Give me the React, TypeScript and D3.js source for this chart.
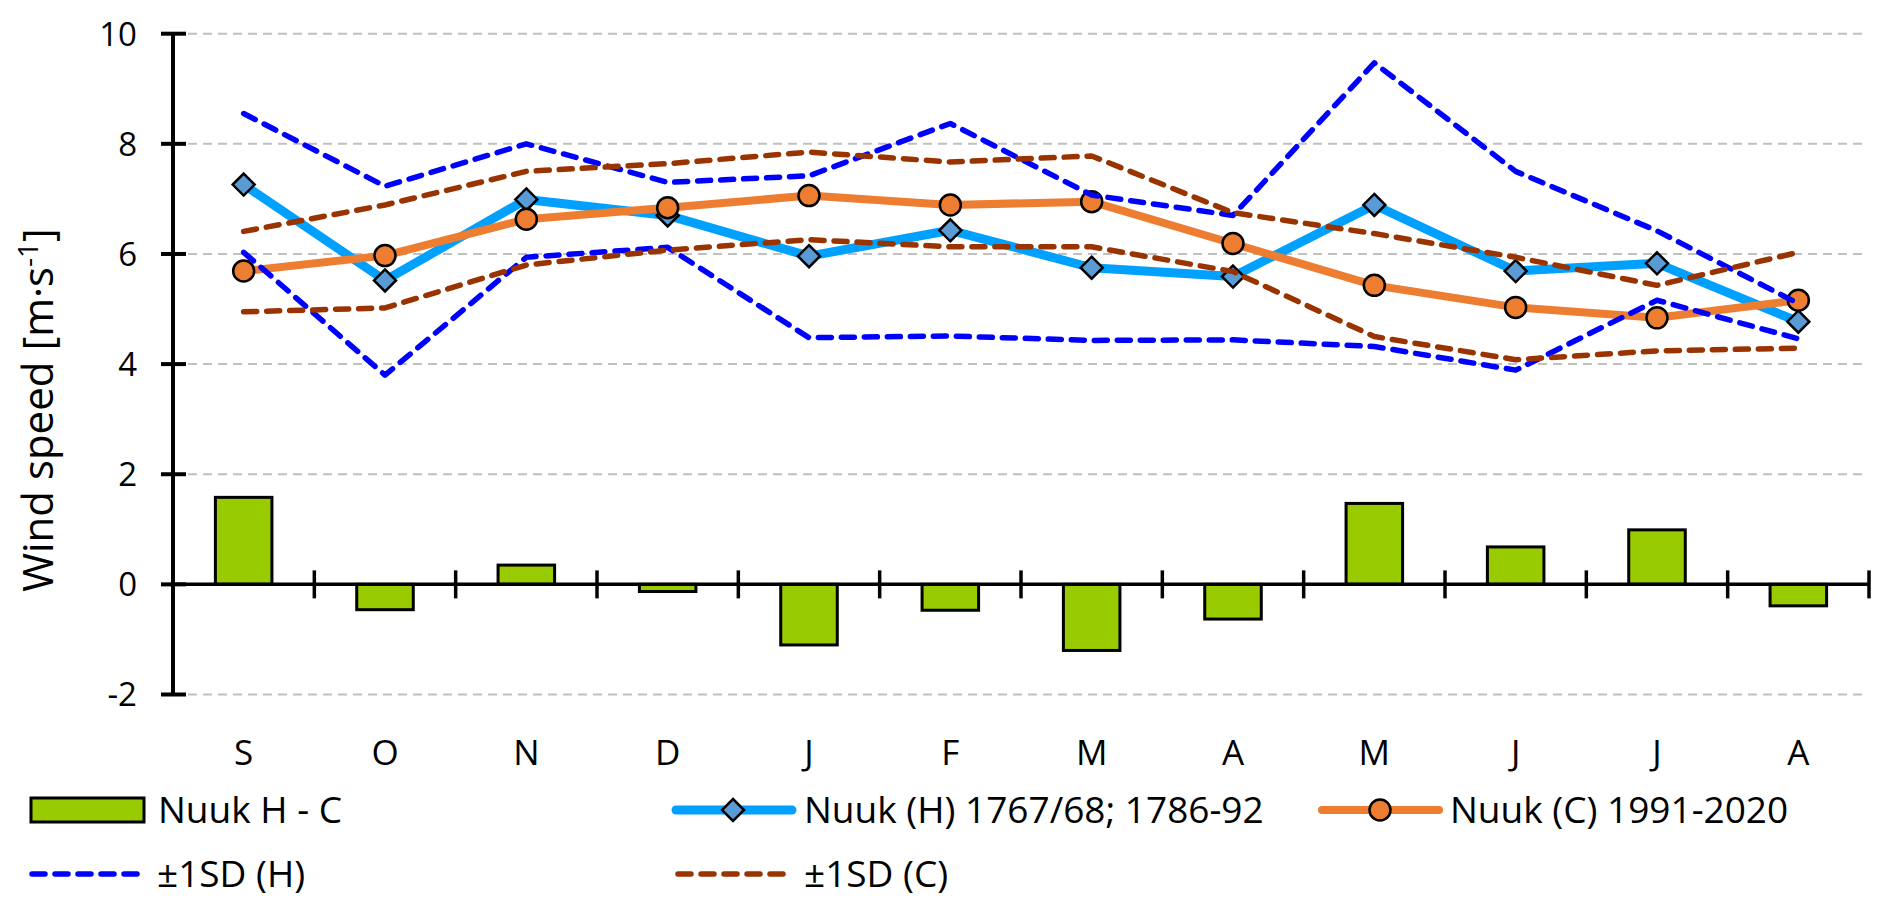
import React from "react";
import * as d3 from "d3";

const months = ["S", "O", "N", "D", "J", "F", "M", "A", "M", "J", "J", "A"];
const nuukH = [7.26, 5.52, 6.99, 6.7, 5.96, 6.43, 5.75, 5.59, 6.89, 5.69, 5.83, 4.77];
const nuukC = [5.69, 5.97, 6.63, 6.84, 7.06, 6.89, 6.95, 6.19, 5.43, 5.03, 4.84, 5.16];
const diffHC = [1.58, -0.46, 0.35, -0.13, -1.1, -0.47, -1.2, -0.63, 1.47, 0.68, 0.99, -0.39];
const hUpper = [8.55, 7.23, 8.0, 7.3, 7.42, 8.37, 7.07, 6.7, 9.47, 7.5, 6.42, 5.1];
const hLower = [6.03, 3.8, 5.94, 6.12, 4.48, 4.51, 4.43, 4.44, 4.32, 3.89, 5.16, 4.46];
const cUpper = [6.41, 6.89, 7.5, 7.64, 7.85, 7.67, 7.78, 6.75, 6.37, 5.94, 5.43, 6.03];
const cLower = [4.95, 5.02, 5.8, 6.07, 6.26, 6.13, 6.13, 5.68, 4.5, 4.08, 4.24, 4.29];
const yTicks = [-2, 0, 2, 4, 6, 8, 10];
const legendLabels = ["Nuuk H - C", "Nuuk (H) 1767/68; 1786-92", "Nuuk (C) 1991-2020", "±1SD (H)", "±1SD (C)"];

const FONT = "'Open Sans', 'Noto Sans', sans-serif";
const COL = {
  bar: "#99cc00",
  hLine: "#00a0ff",
  hMarker: "#5b9bd5",
  cLine: "#ed7d31",
  hSD: "#0000ff",
  cSD: "#993300",
  grid: "#c0c0c0",
};

const W = 1892;
const H = 913;
const left = 173;
const right = 1869;

export default function App() {
  const idx = months.map((_, i) => i);
  const x = d3.scaleBand<number>().domain(idx).range([left, right]).padding(0);
  const y = d3.scaleLinear().domain([-2, 10]).range([694.5, 33.7]);
  const cx = (i: number) => (x(i) as number) + x.bandwidth() / 2;
  const line = d3
    .line<number>()
    .x((_, i) => cx(i))
    .y((d) => y(d));
  const barW = x.bandwidth() * 0.4;
  const y0 = y(0);

  const diamond = (px: number, py: number, r: number) =>
    `M${px},${py - r}L${px + r},${py}L${px},${py + r}L${px - r},${py}Z`;

  const dash = "13,10";
  const sdW = 5.5;

  return (
    <svg
      width={W}
      height={H}
      style={{ position: "absolute", left: 0, top: 0, background: "#fff" }}
      fontFamily={FONT}
    >
      <rect x={0} y={0} width={W} height={H} fill="#fff" />
      {/* gridlines */}
      {yTicks
        .filter((t) => t !== 0)
        .map((t) => (
          <line
            key={"g" + t}
            x1={188}
            x2={1866}
            y1={y(t)}
            y2={y(t)}
            stroke={COL.grid}
            strokeWidth={2}
            strokeDasharray="9,6"
          />
        ))}
      {/* bars */}
      {diffHC.map((v, i) => (
        <rect
          key={"b" + i}
          x={cx(i) - barW / 2}
          y={Math.min(y(v), y0)}
          width={barW}
          height={Math.abs(y(v) - y0)}
          fill={COL.bar}
          stroke="#000"
          strokeWidth={3}
        />
      ))}
      {/* x axis */}
      <line x1={left} x2={right} y1={y0} y2={y0} stroke="#000" strokeWidth={3.5} />
      {idx.slice(1).concat([12]).map((i) => {
        const xx = i === 12 ? right : (x(i) as number);
        return <line key={"xt" + i} x1={xx} x2={xx} y1={y0 - 14} y2={y0 + 14} stroke="#000" strokeWidth={3.5} />;
      })}
      {/* y axis */}
      <line x1={left} x2={left} y1={y(10)} y2={y(-2)} stroke="#000" strokeWidth={4} />
      {yTicks.map((t) => (
        <g key={"yt" + t}>
          <line x1={161} x2={186} y1={y(t)} y2={y(t)} stroke="#000" strokeWidth={4} />
          <text x={137} y={y(t)} dy="0.36em" textAnchor="end" fontSize={33} fill="#000">
            {t}
          </text>
        </g>
      ))}
      {/* x labels */}
      {months.map((m, i) => (
        <text key={"xl" + i} x={cx(i)} y={765} textAnchor="middle" fontSize={35} fill="#000">
          {m}
        </text>
      ))}
      {/* main lines */}
      <path d={line(nuukH) || ""} fill="none" stroke={COL.hLine} strokeWidth={9} strokeLinejoin="round" />
      {nuukH.map((v, i) => (
        <path key={"hm" + i} d={diamond(cx(i), y(v), 11)} fill={COL.hMarker} stroke="#000" strokeWidth={2.5} />
      ))}
      <path d={line(nuukC) || ""} fill="none" stroke={COL.cLine} strokeWidth={8} strokeLinejoin="round" />
      {nuukC.map((v, i) => (
        <circle key={"cm" + i} cx={cx(i)} cy={y(v)} r={10.5} fill={COL.cLine} stroke="#000" strokeWidth={2.5} />
      ))}
      {/* SD lines */}
      {[hUpper, hLower].map((s, k) => (
        <path
          key={"hs" + k}
          d={line(s) || ""}
          fill="none"
          stroke={COL.hSD}
          strokeWidth={sdW}
          strokeDasharray={dash}
          strokeLinecap="round"
          strokeLinejoin="round"
        />
      ))}
      {[cUpper, cLower].map((s, k) => (
        <path
          key={"cs" + k}
          d={line(s) || ""}
          fill="none"
          stroke={COL.cSD}
          strokeWidth={sdW}
          strokeDasharray={dash}
          strokeLinecap="round"
          strokeLinejoin="round"
        />
      ))}
      {/* y title */}
      <text transform="translate(53,410) rotate(-90)" textAnchor="middle" fontSize={42} fill="#000">
        Wind speed [m·s
        <tspan dy={-15} fontSize={28}>
          -1
        </tspan>
        <tspan dy={15}>]</tspan>
      </text>
      {/* legend */}
      <g fontSize={37} fill="#000">
        <rect x={31} y={798} width={113} height={24} fill={COL.bar} stroke="#000" strokeWidth={3} />
        <text x={158} y={823}>{legendLabels[0]}</text>

        <line x1={676} x2={792} y1={810} y2={810} stroke={COL.hLine} strokeWidth={9} strokeLinecap="round" />
        <path d={diamond(733, 810, 11)} fill={COL.hMarker} stroke="#000" strokeWidth={2.5} />
        <text x={804} y={823}>{legendLabels[1]}</text>

        <line x1={1322} x2={1439} y1={810} y2={810} stroke={COL.cLine} strokeWidth={8} strokeLinecap="round" />
        <circle cx={1380} cy={810} r={10.5} fill={COL.cLine} stroke="#000" strokeWidth={2.5} />
        <text x={1450} y={823}>{legendLabels[2]}</text>

        <line x1={32} x2={143} y1={874} y2={874} stroke={COL.hSD} strokeWidth={sdW} strokeDasharray={dash} strokeLinecap="round" />
        <text x={157} y={887}>{legendLabels[3]}</text>

        <line x1={678} x2={790} y1={874} y2={874} stroke={COL.cSD} strokeWidth={sdW} strokeDasharray={dash} strokeLinecap="round" />
        <text x={804} y={887}>{legendLabels[4]}</text>
      </g>
    </svg>
  );
}
